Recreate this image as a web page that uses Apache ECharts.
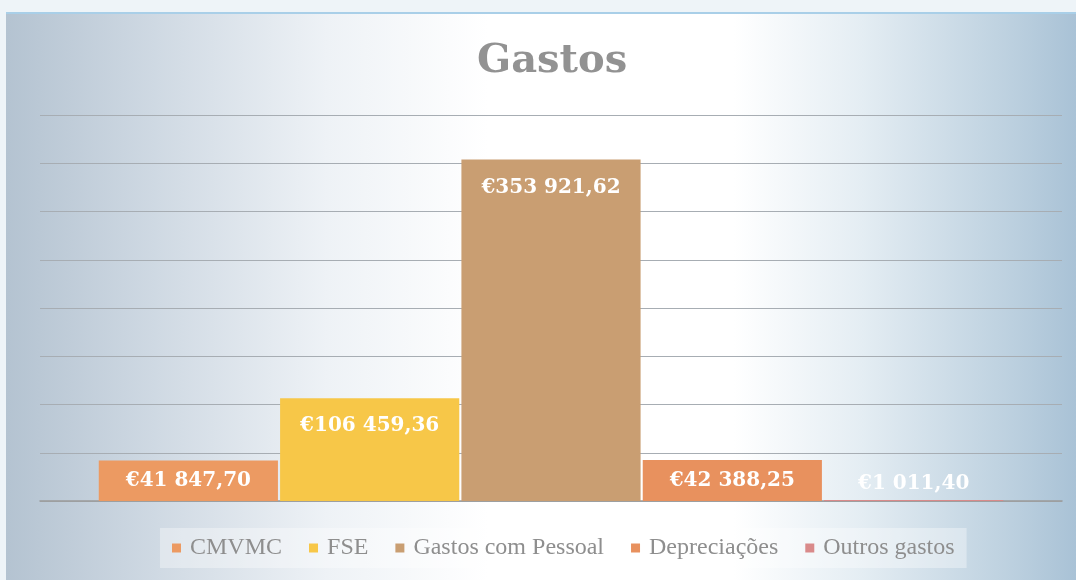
<!DOCTYPE html>
<html>
<head>
<meta charset="utf-8">
<script src="https://cdn.jsdelivr.net/npm/echarts@6/dist/echarts.min.js"></script>
<style>
html,body{margin:0;padding:0;width:1076px;height:580px;overflow:hidden;background:#eef4f8;}
#wrap{position:absolute;left:6px;top:12px;width:1070px;height:568px;border-top:2px solid #a9cfe8;
background:linear-gradient(90deg,#b4c3d1 0%,#cfd9e3 14%,#eef2f6 30%,#ffffff 45%,#ffffff 68%,#e4edf3 80%,#bcd0df 94%,#a9c2d6 100%);}
#chart{position:absolute;left:-6px;top:-14px;width:1076px;height:580px;}
</style>
</head>
<body>
<div id="wrap"><div id="chart"></div></div>
<script>
const categories = ['Gastos'];
const seriesNames = ['CMVMC', 'FSE', 'Gastos com Pessoal', 'Depreciações', 'Outros gastos'];
const seriesValues = [41847.70, 106459.36, 353921.62, 42388.25, 1011.40];
const seriesColors = ['#ec9a62', '#f7c748', '#c99e72', '#e8915e', '#d98a8a'];

function fmt(v){
  const parts = v.toFixed(2).split('.');
  const intPart = parts[0].replace(/\B(?=(\d{3})+(?!\d))/g, ' ');
  return '€' + intPart + ',' + parts[1];
}
function labelPos(v){
  if (v < 5000) return {position: 'top', distance: 6};
  if (v < 60000) return {position: 'inside', distance: 0};
  return {position: 'insideTop', distance: 18};
}

const chart = echarts.init(document.getElementById('chart'));
chart.setOption({
  backgroundColor: 'transparent',
  animation: false,
  title: {
    text: 'Gastos', left: 472, top: 37,
    textStyle: {fontFamily: 'DejaVu Serif', fontSize: 40, fontWeight: 'bold', color: '#929292'}
  },
  legend: {
    bottom: 12, left: 160,
    itemWidth: 9, itemHeight: 9, itemGap: 27, icon: 'rect',
    backgroundColor: 'rgba(255,255,255,0.35)', padding: [8, 12],
    textStyle: {fontFamily: 'Liberation Serif', fontSize: 24, color: '#8e8e8e', padding: [0, 0, 0, 4]},
    data: seriesNames
  },
  grid: {left: 40, right: 14, top: 115, bottom: 79},
  xAxis: {
    type: 'category', data: categories,
    axisLine: {lineStyle: {color: '#9a9a9a', width: 1.5}},
    axisTick: {show: false}, axisLabel: {show: false}
  },
  yAxis: {
    type: 'value', min: 0, max: 400000, interval: 50000,
    axisLabel: {show: false}, axisLine: {show: false}, axisTick: {show: false},
    splitLine: {lineStyle: {color: '#a7adb3', width: 1.2}}
  },
  series: seriesNames.map((n, i) => ({
    name: n, type: 'bar',
    data: [seriesValues[i]],
    barCategoryGap: '11.5%', barGap: '1.2%',
    itemStyle: {color: seriesColors[i]},
    label: Object.assign({
      show: true,
      formatter: p => fmt(p.value),
      fontFamily: 'DejaVu Serif', fontWeight: 'bold', fontSize: 20, color: '#ffffff'
    }, labelPos(seriesValues[i]))
  }))
});
</script>
</body>
</html>
